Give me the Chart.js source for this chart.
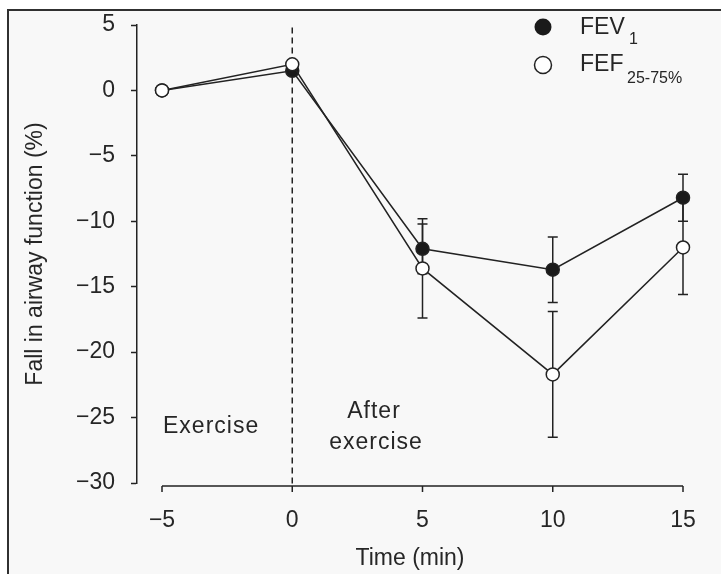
<!DOCTYPE html>
<html>
<head>
<meta charset="utf-8">
<script src="https://cdn.jsdelivr.net/npm/chart.js@4/dist/chart.umd.min.js"></script>
<style>
  html, body { margin: 0; padding: 0; background: #ffffff; }
  canvas { display: block; }
</style>
</head>
<body>
<canvas id="airwayChart" width="721" height="574"></canvas>
<script>
// data
const timePoints = [-5, 0, 5, 10, 15];
const fev1Mean = [0, 1.5, -12.1, -13.7, -8.2];
const fev1Err = [0, 0, 1.9, 2.5, 1.8];
const fefMean = [0, 2.0, -13.6, -21.7, -12.0];
const fefErr = [0, 0, 3.8, 4.8, 3.6];
const xTickValues = [-5, 0, 5, 10, 15];
const yTickValues = [-30, -25, -20, -15, -10, -5, 0, 5];

const FONT = '"Liberation Sans", Arial, Helvetica, sans-serif';
const INK = '#222222';
const TEXT = '#262626';

function minusSign(v) {
    return String(v).replace('-', '\u2212');
}

// background + frame of the scanned figure
const framePlugin = {
    id: 'frame',
    beforeDraw(chart) {
        const ctx = chart.ctx;
        ctx.save();
        ctx.fillStyle = '#ffffff';
        ctx.fillRect(0, 0, chart.width, chart.height);
        ctx.fillStyle = '#f8f8f8';
        ctx.fillRect(8, 10, chart.width - 8, chart.height - 10);
        ctx.strokeStyle = '#303030';
        ctx.lineWidth = 2;
        ctx.beginPath();
        ctx.moveTo(8, chart.height);
        ctx.lineTo(8, 10);
        ctx.lineTo(chart.width, 10);
        ctx.stroke();
        ctx.restore();
    }
};

// error bars, x axis line and the dashed exercise line
const extrasPlugin = {
    id: 'extras',
    beforeDatasetsDraw(chart) {
        const ctx = chart.ctx;
        const x = chart.scales.x;
        const y = chart.scales.y;
        ctx.save();
        ctx.strokeStyle = INK;

        // x axis (R style, detached from y axis)
        const axisY = chart.chartArea.bottom + 3;
        ctx.lineWidth = 1.5;
        ctx.beginPath();
        ctx.moveTo(x.getPixelForValue(xTickValues[0]), axisY);
        ctx.lineTo(x.getPixelForValue(xTickValues[xTickValues.length - 1]), axisY);
        xTickValues.forEach(v => {
            const px = x.getPixelForValue(v);
            ctx.moveTo(px, axisY);
            ctx.lineTo(px, axisY + 6);
        });
        ctx.stroke();

        // dashed line at end of exercise
        ctx.setLineDash([6, 4]);
        ctx.beginPath();
        ctx.moveTo(x.getPixelForValue(0), y.getPixelForValue(4.8));
        ctx.lineTo(x.getPixelForValue(0), axisY);
        ctx.stroke();
        ctx.setLineDash([]);

        // error bars
        const series = [[fefMean, fefErr], [fev1Mean, fev1Err]];
        ctx.lineWidth = 1.5;
        series.forEach(([mean, err]) => {
            timePoints.forEach((t, i) => {
                if (!err[i]) return;
                const px = x.getPixelForValue(t);
                const top = y.getPixelForValue(mean[i] + err[i]);
                const bot = y.getPixelForValue(mean[i] - err[i]);
                ctx.beginPath();
                ctx.moveTo(px, top);
                ctx.lineTo(px, bot);
                ctx.moveTo(px - 5, top);
                ctx.lineTo(px + 5, top);
                ctx.moveTo(px - 5, bot);
                ctx.lineTo(px + 5, bot);
                ctx.stroke();
            });
        });
        ctx.restore();
    },
    afterDraw(chart) {
        const ctx = chart.ctx;
        ctx.save();
        ctx.fillStyle = TEXT;
        ctx.textBaseline = 'middle';
        ctx.font = '23px ' + FONT;
        ctx.letterSpacing = '1px';

        // period labels
        ctx.textAlign = 'left';
        ctx.fillText('Exercise', 163, 427);
        ctx.textAlign = 'center';
        ctx.fillText('After', 374, 412);
        ctx.fillText('exercise', 376, 443);

        // legend with subscripts
        ctx.letterSpacing = '0px';
        ctx.strokeStyle = INK;
        ctx.lineWidth = 1.5;
        ctx.beginPath();
        ctx.arc(543, 27, 8.5, 0, Math.PI * 2);
        ctx.fillStyle = '#1a1a1a';
        ctx.fill();
        ctx.beginPath();
        ctx.arc(543, 65, 8.5, 0, Math.PI * 2);
        ctx.fillStyle = '#ffffff';
        ctx.fill();
        ctx.stroke();

        ctx.fillStyle = TEXT;
        ctx.textAlign = 'left';
        ctx.font = '23px ' + FONT;
        ctx.fillText('FEV', 580, 28);
        ctx.fillText('FEF', 580, 65);
        ctx.font = '16px ' + FONT;
        ctx.fillText('1', 629, 40);
        ctx.fillText('25-75%', 627, 79);
        ctx.restore();
    }
};

const ctx = document.getElementById('airwayChart').getContext('2d');
new Chart(ctx, {
    type: 'line',
    data: {
        datasets: [
            {
                label: 'FEF25-75%',
                data: timePoints.map((t, i) => ({ x: t, y: fefMean[i] })),
                borderColor: INK,
                borderWidth: 1.5,
                pointRadius: 6.5,
                pointBorderWidth: 1.5,
                pointBackgroundColor: '#ffffff',
                pointBorderColor: INK,
                clip: false,
                order: 0
            },
            {
                label: 'FEV1',
                data: timePoints.map((t, i) => ({ x: t, y: fev1Mean[i] })),
                borderColor: INK,
                borderWidth: 1.5,
                pointRadius: 6.5,
                pointBorderWidth: 1.5,
                pointBackgroundColor: '#1a1a1a',
                pointBorderColor: INK,
                clip: false,
                order: 1
            }
        ]
    },
    options: {
        responsive: false,
        animation: false,
        layout: { padding: { top: 25, right: 38, left: 0, bottom: 0 } },
        plugins: {
            legend: { display: false },
            tooltip: { enabled: false }
        },
        scales: {
            x: {
                type: 'linear',
                min: -5.96,
                max: 15,
                afterBuildTicks: (scale) => {
                    scale.ticks = xTickValues.map(v => ({ value: v }));
                },
                afterFit: (scale) => {
                    scale.height = 91;
                    scale.paddingLeft = 0;
                    scale.paddingRight = 0;
                },
                grid: { display: false, drawTicks: false },
                border: { display: false },
                ticks: {
                    padding: 24,
                    color: TEXT,
                    font: { family: FONT, size: 23 },
                    maxRotation: 0,
                    callback: (v) => minusSign(v)
                },
                title: {
                    display: true,
                    text: 'Time (min)',
                    color: TEXT,
                    font: { family: FONT, size: 23 },
                    padding: { top: 0, bottom: 2 }
                }
            },
            y: {
                min: -30,
                max: 5,
                afterBuildTicks: (scale) => {
                    scale.ticks = yTickValues.map(v => ({ value: v }));
                },
                afterFit: (scale) => {
                    scale.width = 137;
                    scale.paddingTop = 0;
                    scale.paddingBottom = 0;
                },
                grid: {
                    display: true,
                    drawOnChartArea: false,
                    drawTicks: true,
                    tickLength: 6,
                    tickWidth: 1.5,
                    color: INK
                },
                border: { display: true, color: INK, width: 1.5 },
                ticks: {
                    padding: 16,
                    color: TEXT,
                    font: { family: FONT, size: 23 },
                    callback: (v) => minusSign(v)
                },
                title: {
                    display: true,
                    text: 'Fall in airway function (%)',
                    color: TEXT,
                    font: { family: FONT, size: 23 },
                    padding: { top: 22, bottom: 0 }
                }
            }
        }
    },
    plugins: [framePlugin, extrasPlugin]
});
</script>
</body>
</html>
